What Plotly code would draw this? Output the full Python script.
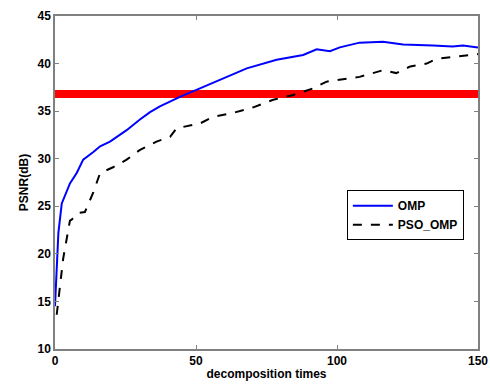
import plotly.graph_objects as go

omp_x = [0, 0.6, 1.2, 2.4, 5.3, 7.7, 10, 13.6, 16, 19.5, 25.4, 30, 33.7, 37.2, 44.3, 51.4, 58.5, 68, 78.6, 88, 92.8, 97.5, 101, 108, 116.3, 123.4, 134, 141, 144.7, 150]
omp_y = [14.5, 18.6, 22.2, 25.3, 27.4, 28.5, 29.9, 30.7, 31.3, 31.8, 33.0, 34.1, 34.9, 35.5, 36.5, 37.4, 38.3, 39.5, 40.4, 40.9, 41.5, 41.3, 41.7, 42.2, 42.3, 42.0, 41.9, 41.8, 41.9, 41.7]

pso_x = [0.6, 1.8, 2.9, 3.5, 5.3, 5.9, 8.2, 10.6, 11.8, 13.5, 16, 20.6, 25.4, 30, 36, 40.8, 43.1, 51.4, 56, 63, 70.3, 77.4, 84.5, 91.6, 96.3, 101, 108, 116.3, 121, 126, 131.8, 135.3, 141, 148, 150]
pso_y = [13.6, 17.0, 19.5, 20.5, 23.5, 23.6, 24.3, 24.4, 25.3, 26.4, 28.5, 29.1, 29.9, 30.9, 31.8, 32.3, 33.2, 33.7, 34.4, 34.8, 35.4, 36.2, 36.7, 37.4, 38.1, 38.3, 38.6, 39.3, 39.0, 39.7, 40.0, 40.5, 40.7, 40.9, 41.0]

ref_x = [0, 150]
ref_y = [36.8, 36.8]

x_ticks = [0, 50, 100, 150]
y_ticks = [10, 15, 20, 25, 30, 35, 40, 45]

font = dict(family="Liberation Sans, Arial", size=12, color="black", weight="bold")

fig = go.Figure()
fig.add_trace(go.Scatter(x=ref_x, y=ref_y, mode="lines", line=dict(color="#ff0000", width=8), showlegend=False))
fig.add_trace(go.Scatter(x=omp_x, y=omp_y, mode="lines", name="OMP", line=dict(color="#0000ff", width=2)))
fig.add_trace(go.Scatter(x=pso_x, y=pso_y, mode="lines", name="PSO_OMP", line=dict(color="black", width=2, dash="dash")))

axis_common = dict(showgrid=False, zeroline=False, showline=True, linecolor="#808080", linewidth=1.5,
                   mirror="ticks", ticks="inside", ticklen=4, tickcolor="#808080", tickfont=font, automargin=False)
fig.update_xaxes(range=[0, 150], tickvals=x_ticks, title=dict(text="decomposition times", font=font, standoff=2), **axis_common)
fig.update_yaxes(range=[10, 45], tickvals=y_ticks, title=dict(text="PSNR(dB)", font=font, standoff=6), **axis_common)

fig.update_layout(
    width=490, height=387,
    margin=dict(l=55, r=12, t=16, b=38),
    plot_bgcolor="white", paper_bgcolor="white",
    font=font,
    legend=dict(x=0.69, y=0.477, xanchor="left", yanchor="top", bordercolor="black", borderwidth=1,
                bgcolor="white", font=dict(family="Liberation Sans, Arial", size=12, color="black"),
                tracegroupgap=0, itemwidth=40),
)
fig.write_html("out.html")
